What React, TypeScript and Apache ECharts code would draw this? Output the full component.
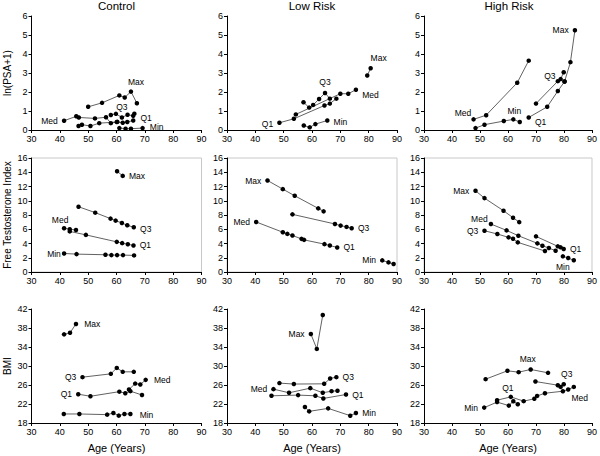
import React, { useEffect, useRef } from "react";
import * as echarts from "echarts";

const panelTitles = ["Control", "Low Risk", "High Risk"];
const measureNames = ["ln(PSA+1)", "Free Testosterone Index", "BMI"];
const xAxisName = "Age (Years)";
const groupNames = ["Max", "Q3", "Med", "Q1", "Min"];
const ageTicks = [30, 40, 50, 60, 70, 80, 90];
const psaTicks = [0, 1, 2, 3, 4, 5, 6];
const ftiTicks = [0, 2, 4, 6, 8, 10, 12, 14, 16];
const bmiTicks = [18, 22, 26, 30, 34, 38, 42];

// ---- ln(PSA+1) ----
const ctrlPsaMax = [[50.0, 1.22], [54.9, 1.43], [61.0, 1.82], [62.9, 1.71], [65.1, 2.02], [67.2, 1.41]];
const ctrlPsaQ3 = [[58.0, 0.79], [59.8, 0.85], [61.9, 0.66], [63.9, 0.8], [65.9, 0.75], [66.3, 0.86]];
const ctrlPsaMed = [[41.5, 0.49], [45.8, 0.72], [46.7, 0.66], [52.4, 0.61], [56.3, 0.67], [58.0, 0.36], [60.3, 0.43]];
const ctrlPsaQ1 = [[46.6, 0.21], [47.8, 0.28], [50.8, 0.21], [53.9, 0.36], [60.1, 0.42], [62.2, 0.38], [63.8, 0.42], [65.9, 0.5]];
const ctrlPsaMin = [[61.0, 0.1], [63.2, 0.07], [65.1, 0.07], [69.2, 0.1]];

const lowPsaMax = [[79.5, 2.87], [80.7, 3.25]];
const lowPsaQ3 = [[57.0, 1.46], [59.0, 1.18], [60.4, 1.32], [62.5, 1.63], [64.6, 1.95], [66.3, 1.65]];
const lowPsaMed = [[54.3, 0.82], [70.0, 1.91], [72.8, 1.91], [75.5, 2.12]];
const lowPsaQ1 = [[48.5, 0.38], [53.6, 0.59], [64.4, 1.29], [66.3, 1.39], [68.6, 1.65]];
const lowPsaMin = [[57.1, 0.24], [59.2, 0.14], [61.2, 0.31], [65.4, 0.5]];

const highPsaMax = [[80.2, 2.55], [82.3, 3.57], [83.9, 5.25]];
const highPsaQ3 = [[70.0, 1.39], [77.8, 2.57], [78.8, 2.68], [79.9, 3.04]];
const highPsaMed = [[47.7, 0.56], [52.2, 0.78], [63.3, 2.49], [67.4, 3.65]];
const highPsaQ1 = [[67.4, 0.66], [74.0, 1.22], [77.8, 2.05], [80.2, 2.55]];
const highPsaMin = [[48.4, 0.1], [51.6, 0.28], [58.5, 0.47], [61.9, 0.56], [64.2, 0.42]];

// ---- Free Testosterone Index ----
const ctrlFtiMax = [[60.2, 14.14], [62.2, 13.49]];
const ctrlFtiQ3 = [[46.6, 9.16], [52.5, 8.33], [57.9, 7.49], [59.7, 7.21], [61.9, 6.88], [63.8, 6.56], [66.1, 6.28]];
const ctrlFtiMed = [[41.5, 6.14], [43.5, 6.0], [45.7, 5.9]];
const ctrlFtiQ1 = [[43.5, 5.7], [49.2, 5.21], [60.1, 4.23], [62.0, 4.05], [64.0, 3.9], [66.0, 3.72]];
const ctrlFtiMin = [[41.5, 2.6], [45.9, 2.51], [56.1, 2.42], [58.2, 2.37], [60.2, 2.37], [62.3, 2.37], [66.2, 2.33]];

const lowFtiMax = [[44.3, 12.84], [49.7, 11.63], [53.9, 10.7], [62.2, 8.93], [64.1, 8.51]];
const lowFtiQ3 = [[53.1, 8.09], [68.1, 6.74], [70.1, 6.51], [72.2, 6.33], [74.0, 6.14]];
const lowFtiMed = [[40.3, 7.02], [49.7, 5.58], [51.3, 5.35], [53.1, 5.12], [56.3, 4.65]];
const lowFtiQ1 = [[57.2, 4.51], [64.4, 3.91], [66.3, 3.72], [68.9, 3.44]];
const lowFtiMin = [[84.8, 1.63], [87.0, 1.35], [88.8, 1.12]];

const highFtiMax = [[48.4, 11.4], [51.6, 10.37], [58.4, 8.6], [61.8, 7.62], [64.0, 7.0]];
const highFtiQ3 = [[51.6, 5.79], [56.2, 5.33], [60.2, 4.86], [61.8, 4.67], [63.5, 4.16], [73.2, 2.94]];
const highFtiMed = [[53.9, 6.73], [59.5, 5.84], [63.7, 5.09], [70.5, 4.02], [72.3, 3.69], [74.6, 3.36], [77.0, 2.99]];
const highFtiQ1 = [[70.0, 5.0], [77.8, 3.6], [78.8, 3.46], [79.9, 3.22]];
const highFtiMin = [[79.6, 2.2], [81.5, 1.96], [83.5, 1.64]];

// ---- BMI ----
const ctrlBmiMax = [[41.5, 36.66], [43.6, 37.0], [45.7, 38.85]];
const ctrlBmiQ3 = [[48.0, 27.65], [58.0, 28.35], [60.1, 29.6], [62.2, 28.77], [66.1, 28.77]];
const ctrlBmiMed = [[64.4, 25.04], [66.6, 26.3], [68.4, 26.1], [70.3, 27.08]];
const ctrlBmiQ1 = [[46.5, 24.06], [50.8, 23.63], [61.0, 24.6], [63.1, 24.27], [64.9, 24.7], [69.0, 23.9]];
const ctrlBmiMin = [[41.4, 19.9], [46.9, 19.9], [56.7, 19.76], [58.9, 20.1], [60.8, 19.55], [62.8, 19.9], [64.9, 19.9]];

const lowBmiMax = [[59.6, 36.74], [61.7, 33.6], [63.8, 40.73]];
const lowBmiQ3 = [[48.5, 26.4], [53.6, 26.2], [64.3, 26.25], [66.4, 27.37], [68.6, 27.65]];
const lowBmiMed = [[46.4, 25.13], [51.9, 24.36], [59.4, 25.34], [63.8, 24.36], [66.9, 24.7], [69.0, 24.78]];
const lowBmiQ1 = [[45.7, 23.73], [55.1, 23.87], [61.2, 23.73], [64.0, 23.17], [72.0, 24.0]];
const lowBmiMin = [[57.5, 21.36], [59.0, 20.45], [65.7, 21.08], [73.5, 19.54], [75.5, 20.1]];

const highBmiMax = [[52.0, 27.23], [59.8, 28.99], [63.8, 28.7], [68.1, 29.27], [74.3, 28.56]];
const highBmiQ3 = [[69.8, 26.73], [77.8, 25.96], [78.8, 25.6], [79.9, 26.17]];
const highBmiMed = [[70.4, 23.7], [73.2, 24.27], [79.6, 24.69], [81.5, 25.04], [83.5, 25.6]];
const highBmiQ1 = [[56.1, 22.8], [61.0, 23.5], [65.6, 22.6], [69.4, 23.1]];
const highBmiMin = [[51.5, 21.24], [56.1, 22.4], [60.3, 21.66], [61.9, 22.58], [63.5, 21.94]];

// panels in row-major order; each lists groups in order Max, Q3, Med, Q1, Min
const panelSeries = [
  [ctrlPsaMax, ctrlPsaQ3, ctrlPsaMed, ctrlPsaQ1, ctrlPsaMin],
  [lowPsaMax, lowPsaQ3, lowPsaMed, lowPsaQ1, lowPsaMin],
  [highPsaMax, highPsaQ3, highPsaMed, highPsaQ1, highPsaMin],
  [ctrlFtiMax, ctrlFtiQ3, ctrlFtiMed, ctrlFtiQ1, ctrlFtiMin],
  [lowFtiMax, lowFtiQ3, lowFtiMed, lowFtiQ1, lowFtiMin],
  [highFtiMax, highFtiQ3, highFtiMed, highFtiQ1, highFtiMin],
  [ctrlBmiMax, ctrlBmiQ3, ctrlBmiMed, ctrlBmiQ1, ctrlBmiMin],
  [lowBmiMax, lowBmiQ3, lowBmiMed, lowBmiQ1, lowBmiMin],
  [highBmiMax, highBmiQ3, highBmiMed, highBmiQ1, highBmiMin],
];
const rowTicks = [psaTicks, ftiTicks, bmiTicks];

// label placement (style): group -> [point index, position, offsetX, offsetY]
const labelPlacement: Record<string, [number, string, number, number]>[] = [
  { Max: [4, "top", 5, 1], Q3: [2, "top", 0, 0], Med: [0, "left", 0, 0], Q1: [7, "right", 1, -3], Min: [3, "right", 1, -1] },
  { Max: [1, "top", 8, 0], Q3: [4, "top", 0, 0], Med: [3, "right", 0, 5], Q1: [0, "left", 0, 1], Min: [3, "right", 0, 1] },
  { Max: [2, "left", 0, 0], Q3: [1, "left", 4, -5], Med: [0, "left", 4, -6], Q1: [0, "right", 0, 5], Min: [3, "top", 1, 2] },
  { Max: [1, "right", 0, 0], Q3: [6, "right", 0, 2], Med: [0, "top", -4, 2], Q1: [5, "right", 0, 0], Min: [0, "left", 3, 1] },
  { Max: [0, "left", 0, 0], Q3: [4, "right", 0, 0], Med: [0, "left", 0, 0], Q1: [3, "right", 0, 0], Min: [0, "left", 0, 0] },
  { Max: [0, "left", 0, 0], Q3: [0, "left", 0, 0], Med: [0, "left", 3, -5], Q1: [3, "right", 0, 0], Min: [0, "bottom", 0, 0] },
  { Max: [2, "right", 2, 0], Q3: [0, "left", 0, 0], Med: [3, "right", 2, 0], Q1: [0, "left", 0, 0], Min: [6, "right", 3, 1] },
  { Max: [0, "left", 0, 0], Q3: [4, "right", 0, 0], Med: [0, "left", 0, 0], Q1: [4, "right", 0, 0], Min: [4, "right", 0, 0] },
  { Max: [3, "top", -3, 0], Q3: [3, "top", 3, 1], Med: [4, "bottom", 6, 0], Q1: [1, "top", -3, 2], Min: [0, "left", 0, 0] },
];

const FONT = '"Liberation Sans", Arial, sans-serif';
const colLefts = [31.5, 227, 424];
const rowTops = [16, 158, 309];
const gridW = 170;
const gridH = 114;

export default function App() {
  const ref = useRef<HTMLDivElement>(null);
  useEffect(() => {
    if (!ref.current) return;
    const chart = echarts.init(ref.current, null, { renderer: "svg" });
    const grids: any[] = [];
    const xAxes: any[] = [];
    const yAxes: any[] = [];
    const series: any[] = [];
    for (let r = 0; r < 3; r++) {
      for (let c = 0; c < 3; c++) {
        const i = r * 3 + c;
        grids.push({
          left: colLefts[c],
          top: rowTops[r],
          width: gridW,
          height: gridH,
          show: r === 1,
          borderColor: "#c8c8c8",
          borderWidth: 1,
        });
        xAxes.push({
          type: "value",
          gridIndex: i,
          min: ageTicks[0],
          max: ageTicks[ageTicks.length - 1],
          interval: ageTicks[1] - ageTicks[0],
          axisLine: { show: true, onZero: false, lineStyle: { color: "#000", width: 1 } },
          axisTick: { show: true, length: 3, lineStyle: { color: "#000" } },
          axisLabel: { fontSize: 9, color: "#000", margin: 4, fontFamily: FONT },
          splitLine: { show: false },
          name: r === 2 ? xAxisName : "",
          nameLocation: "middle",
          nameGap: 19,
          nameTextStyle: { fontSize: 11, color: "#000", fontFamily: FONT },
        });
        const ticks = rowTicks[r];
        yAxes.push({
          type: "value",
          gridIndex: i,
          min: ticks[0],
          max: ticks[ticks.length - 1],
          interval: ticks[1] - ticks[0],
          axisLine: { show: true, onZero: false, lineStyle: { color: "#000", width: 1 } },
          axisTick: { show: true, length: 3, lineStyle: { color: "#000" }, customValues: ticks },
          axisLabel: { fontSize: 9, color: "#000", margin: 4, fontFamily: FONT, customValues: ticks },
          splitLine: { show: false },
          name: c === 0 ? measureNames[r] : "",
          nameLocation: "middle",
          nameGap: 19,
          nameTextStyle: { fontSize: 10, color: "#000", fontFamily: FONT },
        });
        panelSeries[i].forEach((pts, g) => {
          const gname = groupNames[g];
          const lp = labelPlacement[i][gname];
          series.push({
            type: "line",
            name: `${panelTitles[c]} ${measureNames[r]} ${gname}`,
            xAxisIndex: i,
            yAxisIndex: i,
            symbol: "circle",
            symbolSize: 4.5,
            showSymbol: true,
            silent: true,
            itemStyle: { color: "#000" },
            lineStyle: { color: "#3a3a3a", width: 0.8 },
            data: pts.map((p, k) =>
              lp && lp[0] === k
                ? {
                    value: p,
                    label: {
                      show: true,
                      formatter: gname,
                      position: lp[1],
                      offset: [lp[2], lp[3]],
                      distance: 4,
                      fontSize: 8.5,
                      color: "#000",
                      fontFamily: FONT,
                    },
                  }
                : { value: p }
            ),
          });
        });
      }
    }
    chart.setOption({
      animation: false,
      backgroundColor: "#fff",
      grid: grids,
      xAxis: xAxes,
      yAxis: yAxes,
      series,
      graphic: panelTitles.map((t, c) => ({
        type: "text",
        x: colLefts[c] + gridW / 2,
        y: 0,
        style: {
          text: t,
          fontSize: 11.5,
          fontFamily: FONT,
          fill: "#000",
          align: "center",
          verticalAlign: "top",
        },
      })),
    });
    return () => chart.dispose();
  }, []);
  return (
    <div
      ref={ref}
      style={{ position: "fixed", left: 0, top: 0, width: 600, height: 456, background: "#fff" }}
    />
  );
}
